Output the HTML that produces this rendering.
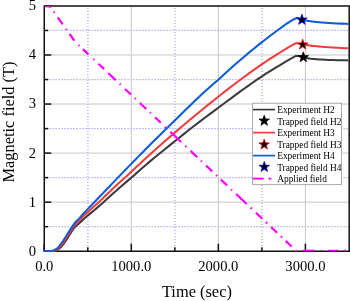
<!DOCTYPE html>
<html><head><meta charset="utf-8"><style>
html,body{margin:0;padding:0;background:#fff;width:350px;height:301px;overflow:hidden;font-family:"Liberation Serif",serif;}
svg{display:block;will-change:transform}
</style></head><body>
<svg width="350" height="301" viewBox="0 0 350 301">
<rect width="350" height="301" fill="#fff"/>
<g stroke="#bcbcfa" stroke-width="1.7" stroke-dasharray="1.2 1.8" stroke-dashoffset="-1"><line x1="87.88" y1="6.9" x2="87.88" y2="251.2" /><line x1="174.93" y1="6.9" x2="174.93" y2="251.2" /><line x1="261.98" y1="6.9" x2="261.98" y2="251.2" /></g>
<g stroke="#bcbcfa" stroke-width="1.3" stroke-dasharray="1.8 1.2" stroke-dashoffset="-1"><line x1="45.25" y1="226.67" x2="349.2" y2="226.67" /><line x1="45.25" y1="177.62" x2="349.2" y2="177.62" /><line x1="45.25" y1="128.57" x2="349.2" y2="128.57" /><line x1="45.25" y1="79.53" x2="349.2" y2="79.53" /><line x1="45.25" y1="30.47" x2="349.2" y2="30.47" /></g>
<g stroke="#c6c6c6" stroke-width="1"><line x1="131.30" y1="5.9" x2="131.30" y2="251.2" /><line x1="218.35" y1="5.9" x2="218.35" y2="251.2" /><line x1="305.40" y1="5.9" x2="305.40" y2="251.2" /><line x1="44.25" y1="202.15" x2="349.2" y2="202.15" /><line x1="44.25" y1="153.10" x2="349.2" y2="153.10" /><line x1="44.25" y1="104.05" x2="349.2" y2="104.05" /><line x1="44.25" y1="55.00" x2="349.2" y2="55.00" /></g>
<path d="M44.25,251.2 L44.25,5.9 L349.2,5.9 L349.2,251.2 Z" fill="none" stroke="#111" stroke-width="1.5"/>
<g stroke="#111" stroke-width="1.5"><line x1="44.25" y1="251.20" x2="51.25" y2="251.20"/><line x1="44.25" y1="202.15" x2="51.25" y2="202.15"/><line x1="44.25" y1="153.10" x2="51.25" y2="153.10"/><line x1="44.25" y1="104.05" x2="51.25" y2="104.05"/><line x1="44.25" y1="55.00" x2="51.25" y2="55.00"/><line x1="44.25" y1="5.95" x2="51.25" y2="5.95"/><line x1="44.25" y1="226.67" x2="48.25" y2="226.67"/><line x1="44.25" y1="177.62" x2="48.25" y2="177.62"/><line x1="44.25" y1="128.57" x2="48.25" y2="128.57"/><line x1="44.25" y1="79.53" x2="48.25" y2="79.53"/><line x1="44.25" y1="30.47" x2="48.25" y2="30.47"/><line x1="44.25" y1="251.2" x2="44.25" y2="243.7"/><line x1="131.30" y1="251.2" x2="131.30" y2="243.7"/><line x1="218.35" y1="251.2" x2="218.35" y2="243.7"/><line x1="305.40" y1="251.2" x2="305.40" y2="243.7"/><line x1="87.78" y1="251.2" x2="87.78" y2="247.2"/><line x1="174.83" y1="251.2" x2="174.83" y2="247.2"/><line x1="261.88" y1="251.2" x2="261.88" y2="247.2"/></g>
<path d="M44.00,251.00 L45.02,251.00 L46.50,251.01 L48.18,251.01 L49.80,251.01 L51.10,251.00 L52.04,250.99 L52.78,250.98 L53.41,250.96 L53.99,250.91 L54.60,250.80 L55.23,250.64 L55.84,250.44 L56.42,250.19 L57.01,249.91 L57.60,249.60 L58.20,249.26 L58.80,248.90 L59.40,248.49 L60.00,248.03 L60.60,247.50 L61.20,246.89 L61.80,246.20 L62.41,245.46 L63.01,244.68 L63.60,243.90 L64.14,243.17 L64.64,242.49 L65.15,241.75 L65.75,240.85 L66.50,239.70 L67.49,238.15 L68.66,236.26 L69.90,234.25 L71.09,232.36 L72.10,230.80 L72.91,229.61 L73.60,228.63 L74.21,227.82 L74.76,227.13 L75.30,226.50 L75.79,225.99 L76.22,225.63 L76.62,225.34 L77.04,225.06 L77.50,224.70 L77.98,224.30 L78.44,223.92 L78.94,223.50 L79.54,222.98 L80.30,222.30 L81.12,221.53 L81.97,220.70 L82.98,219.72 L84.28,218.52 L86.00,217.00 L88.25,215.10 L90.95,212.87 L93.93,210.42 L97.00,207.86 L100.00,205.30 L102.92,202.71 L105.87,200.02 L108.86,197.26 L111.90,194.48 L115.00,191.70 L118.13,188.96 L121.29,186.24 L124.51,183.48 L127.82,180.65 L131.25,177.70 L134.74,174.65 L138.28,171.53 L141.95,168.30 L145.83,164.94 L150.00,161.40 L154.62,157.57 L159.64,153.48 L164.81,149.28 L169.93,145.17 L174.75,141.30 L179.21,137.73 L183.45,134.34 L187.60,131.05 L191.74,127.80 L196.00,124.50 L200.39,121.14 L204.85,117.78 L209.34,114.43 L213.82,111.10 L218.25,107.80 L222.63,104.53 L226.97,101.28 L231.31,98.06 L235.64,94.87 L240.00,91.70 L244.41,88.53 L248.85,85.36 L253.30,82.23 L257.69,79.20 L262.00,76.30 L266.40,73.45 L270.93,70.63 L275.31,67.95 L279.26,65.57 L282.50,63.60 L284.87,62.16 L286.54,61.17 L287.78,60.45 L288.85,59.85 L290.00,59.20 L291.25,58.48 L292.43,57.81 L293.51,57.20 L294.47,56.69 L295.30,56.30 L295.93,56.06 L296.39,55.96 L296.75,55.95 L297.09,55.98 L297.50,56.00 L297.97,56.01 L298.44,56.04 L298.93,56.10 L299.44,56.19 L300.00,56.30 L300.58,56.45 L301.17,56.64 L301.80,56.86 L302.50,57.08 L303.30,57.30 L304.23,57.52 L305.26,57.75 L306.36,57.98 L307.48,58.20 L308.60,58.40 L309.58,58.56 L310.44,58.70 L311.38,58.83 L312.60,58.96 L314.30,59.10 L316.52,59.26 L319.13,59.43 L322.06,59.60 L325.24,59.76 L328.60,59.90 L332.54,60.03 L337.11,60.15 L341.70,60.25 L345.70,60.34 L348.50,60.40" fill="none" stroke="#3a3a3a" stroke-width="2.05" stroke-linejoin="round"/>
<path d="M44.00,251.00 L44.83,251.00 L46.01,251.01 L47.37,251.01 L48.69,251.01 L49.80,251.00 L50.66,250.99 L51.39,250.98 L52.05,250.96 L52.67,250.91 L53.30,250.80 L53.93,250.64 L54.54,250.44 L55.12,250.19 L55.71,249.91 L56.30,249.60 L56.90,249.26 L57.50,248.90 L58.10,248.49 L58.70,248.03 L59.30,247.50 L59.90,246.89 L60.50,246.20 L61.11,245.46 L61.71,244.68 L62.30,243.90 L62.84,243.17 L63.34,242.49 L63.85,241.75 L64.45,240.85 L65.20,239.70 L66.17,238.17 L67.31,236.34 L68.53,234.38 L69.73,232.47 L70.80,230.80 L71.76,229.35 L72.69,228.00 L73.55,226.77 L74.32,225.70 L75.00,224.80 L75.54,224.15 L75.94,223.72 L76.28,223.42 L76.62,223.15 L77.00,222.80 L77.39,222.43 L77.74,222.12 L78.12,221.76 L78.62,221.29 L79.30,220.60 L80.07,219.76 L80.89,218.84 L81.89,217.73 L83.21,216.35 L85.00,214.60 L87.40,212.38 L90.33,209.75 L93.55,206.86 L96.85,203.89 L100.00,201.00 L102.98,198.18 L105.94,195.32 L108.91,192.43 L111.92,189.52 L115.00,186.60 L118.13,183.71 L121.29,180.83 L124.51,177.93 L127.82,174.93 L131.25,171.80 L134.74,168.56 L138.28,165.24 L141.95,161.80 L145.83,158.20 L150.00,154.40 L154.62,150.26 L159.64,145.80 L164.81,141.24 L169.93,136.77 L174.75,132.60 L179.21,128.79 L183.45,125.21 L187.60,121.75 L191.74,118.32 L196.00,114.80 L200.39,111.18 L204.85,107.51 L209.34,103.85 L213.82,100.24 L218.25,96.70 L222.63,93.26 L226.97,89.88 L231.31,86.55 L235.64,83.26 L240.00,80.00 L244.45,76.72 L248.97,73.42 L253.48,70.18 L257.85,67.08 L262.00,64.20 L265.98,61.51 L269.87,58.96 L273.57,56.58 L276.98,54.42 L280.00,52.50 L282.59,50.87 L284.80,49.50 L286.72,48.34 L288.43,47.33 L290.00,46.40 L291.41,45.57 L292.62,44.88 L293.64,44.32 L294.53,43.86 L295.30,43.50 L295.91,43.26 L296.33,43.15 L296.64,43.13 L296.94,43.16 L297.30,43.20 L297.71,43.26 L298.12,43.38 L298.54,43.52 L298.99,43.67 L299.50,43.80 L300.05,43.92 L300.62,44.03 L301.24,44.15 L301.92,44.27 L302.70,44.40 L303.58,44.55 L304.54,44.70 L305.57,44.86 L306.66,45.03 L307.80,45.20 L308.89,45.37 L309.92,45.54 L311.07,45.71 L312.48,45.90 L314.30,46.10 L316.57,46.32 L319.19,46.57 L322.10,46.82 L325.26,47.07 L328.60,47.30 L332.54,47.53 L337.11,47.76 L341.70,47.98 L345.70,48.17 L348.50,48.30" fill="none" stroke="#f23a3a" stroke-width="2.05" stroke-linejoin="round"/>
<path d="M44.00,251.00 L44.63,251.00 L45.52,251.01 L46.56,251.01 L47.59,251.01 L48.50,251.00 L49.27,250.99 L50.00,250.98 L50.68,250.96 L51.35,250.91 L52.00,250.80 L52.63,250.64 L53.24,250.44 L53.82,250.19 L54.41,249.91 L55.00,249.60 L55.60,249.26 L56.20,248.90 L56.80,248.49 L57.40,248.03 L58.00,247.50 L58.60,246.89 L59.20,246.20 L59.81,245.46 L60.41,244.68 L61.00,243.90 L61.54,243.17 L62.04,242.49 L62.55,241.75 L63.15,240.85 L63.90,239.70 L64.85,238.20 L65.96,236.43 L67.15,234.51 L68.36,232.58 L69.50,230.80 L70.64,229.08 L71.81,227.32 L72.95,225.64 L73.97,224.16 L74.80,223.00 L75.38,222.25 L75.75,221.83 L76.02,221.60 L76.27,221.40 L76.60,221.10 L76.97,220.74 L77.31,220.42 L77.68,220.06 L78.16,219.58 L78.80,218.90 L79.48,218.13 L80.15,217.32 L81.00,216.32 L82.22,214.93 L84.00,213.00 L86.52,210.33 L89.67,207.05 L93.15,203.42 L96.69,199.75 L100.00,196.30 L103.04,193.12 L106.01,190.02 L108.96,186.94 L111.94,183.84 L115.00,180.65 L118.13,177.40 L121.29,174.12 L124.51,170.79 L127.82,167.37 L131.25,163.85 L134.74,160.27 L138.28,156.64 L141.95,152.91 L145.83,148.98 L150.00,144.80 L154.56,140.28 L159.44,135.47 L164.53,130.49 L169.67,125.46 L174.75,120.50 L179.88,115.46 L185.15,110.28 L190.38,105.15 L195.39,100.29 L200.00,95.90 L204.04,92.18 L207.64,88.97 L211.03,86.01 L214.49,83.02 L218.25,79.70 L222.37,75.99 L226.69,72.07 L231.11,68.06 L235.58,64.06 L240.00,60.20 L244.45,56.42 L248.97,52.64 L253.48,48.95 L257.85,45.41 L262.00,42.10 L265.98,38.99 L269.87,36.02 L273.57,33.25 L276.98,30.73 L280.00,28.50 L282.58,26.62 L284.78,25.04 L286.69,23.70 L288.40,22.54 L290.00,21.50 L291.50,20.59 L292.83,19.85 L293.99,19.26 L294.98,18.78 L295.80,18.40 L296.37,18.13 L296.70,18.00 L296.89,17.97 L297.06,17.98 L297.30,18.00 L297.61,18.03 L297.91,18.11 L298.22,18.21 L298.58,18.35 L299.00,18.50 L299.50,18.68 L300.05,18.90 L300.65,19.14 L301.29,19.38 L301.95,19.60 L302.57,19.80 L303.16,20.00 L303.81,20.20 L304.63,20.40 L305.70,20.60 L307.02,20.81 L308.52,21.02 L310.22,21.24 L312.14,21.47 L314.30,21.70 L316.71,21.95 L319.34,22.22 L322.20,22.50 L325.29,22.76 L328.60,23.00 L332.54,23.22 L337.11,23.43 L341.70,23.62 L345.70,23.78 L348.50,23.90" fill="none" stroke="#0d5bd9" stroke-width="2.05" stroke-linejoin="round"/>
<path d="M49.70,6.40 L49.90,6.40 L50.72,7.54 M53.73,11.75 L54.55,12.90 M57.78,17.41 L62.70,24.30 M65.95,28.83 L66.70,29.88 M69.65,34.01 L74.31,40.52 M78.53,44.95 L79.47,45.84 M82.91,49.09 L88.46,54.34 M93.40,59.02 L94.35,59.91 M98.43,63.77 L104.13,69.16 M108.20,73.01 L115.69,80.10 M119.69,83.88 L120.64,84.78 M125.05,88.95 L130.95,94.53 M134.78,98.15 L135.72,99.04 M139.85,102.95 L146.28,109.02 M149.87,112.42 L150.81,113.31 M155.01,117.28 L160.81,122.77 M165.02,126.75 L165.97,127.65 M170.33,131.77 L181.12,141.97 M185.28,145.91 L186.36,146.93 M190.58,150.92 L197.20,157.18 M200.95,160.72 L201.89,161.62 M206.00,165.50 L212.21,171.38 M216.12,175.07 L217.14,176.04 M220.90,179.60 L227.22,185.57 M231.13,189.27 L232.10,190.19 M236.16,194.03 L246.75,204.04 M250.56,207.64 L251.78,208.80 M255.96,212.75 L262.27,218.72 M265.87,222.12 L267.15,223.33 M271.11,227.08 L277.18,232.81 M280.88,236.32 L282.01,237.39 M285.67,240.84 L291.61,246.47 M295.72,250.35 L296.30,250.90 L296.80,250.90" fill="none" stroke="#ff00ff" stroke-width="2.2" stroke-linejoin="round"/>
<path d="M302.50,250.90 L315.30,250.90 M321.05,250.90 L322.35,250.90 M328.40,250.90 L338.20,250.90 M343.80,250.90 L345.90,250.90" fill="none" stroke="#e600e6" stroke-width="1.5" stroke-linejoin="round" transform="translate(0,-0.3)"/>
<line x1="44.6" y1="6.55" x2="50.2" y2="6.55" stroke="#f000f0" stroke-width="1.45"/>
<path d="M303.30,51.90 L304.57,55.55 L308.44,55.63 L305.35,57.97 L306.47,61.67 L303.30,59.46 L300.13,61.67 L301.25,57.97 L298.16,55.63 L302.03,55.55Z" fill="#000" stroke="#000" stroke-width="0.8"/>
<path d="M302.70,39.20 L303.98,42.89 L307.88,42.97 L304.77,45.32 L305.90,49.06 L302.70,46.83 L299.50,49.06 L300.63,45.32 L297.52,42.97 L301.42,42.89Z" fill="#000" stroke="#f00" stroke-width="0.8"/>
<path d="M301.95,14.24 L303.27,18.03 L307.28,18.11 L304.08,20.53 L305.24,24.37 L301.95,22.08 L298.66,24.37 L299.82,20.53 L296.62,18.11 L300.63,18.03Z" fill="#000" stroke="#00f" stroke-width="0.8"/>
<rect x="252.5" y="103.3" width="89.0" height="81.3" fill="#fff" stroke="#aaa" stroke-width="1"/>
<line x1="253" y1="109.6" x2="275" y2="109.6" stroke="#3a3a3a" stroke-width="1.7"/>
<path d="M264.20,115.30 L265.49,119.02 L269.43,119.10 L266.29,121.48 L267.43,125.25 L264.20,123.00 L260.97,125.25 L262.11,121.48 L258.97,119.10 L262.91,119.02Z" fill="#000" stroke="#000" stroke-width="0.8"/>
<line x1="253" y1="132.6" x2="275" y2="132.6" stroke="#f23a3a" stroke-width="1.7"/>
<path d="M264.20,139.10 L265.49,142.82 L269.43,142.90 L266.29,145.28 L267.43,149.05 L264.20,146.80 L260.97,149.05 L262.11,145.28 L258.97,142.90 L262.91,142.82Z" fill="#000" stroke="#f00" stroke-width="0.8"/>
<line x1="253" y1="155.6" x2="275" y2="155.6" stroke="#0d5bd9" stroke-width="1.7"/>
<path d="M264.30,161.50 L265.59,165.22 L269.53,165.30 L266.39,167.68 L267.53,171.45 L264.30,169.20 L261.07,171.45 L262.21,167.68 L259.07,165.30 L263.01,165.22Z" fill="#000" stroke="#00f" stroke-width="0.8"/>
<line x1="253" y1="178.6" x2="263.7" y2="178.6" stroke="#ff00ff" stroke-width="1.9"/>
<line x1="268.6" y1="178.6" x2="271.3" y2="178.6" stroke="#ff00ff" stroke-width="1.9"/>
<text x="277.2" y="113.30" font-family="Liberation Serif" font-size="9.4">Experiment H2</text>
<text x="277.2" y="124.80" font-family="Liberation Serif" font-size="9.4">Trapped field H2</text>
<text x="277.2" y="136.30" font-family="Liberation Serif" font-size="9.4">Experiment H3</text>
<text x="277.2" y="147.80" font-family="Liberation Serif" font-size="9.4">Trapped field H3</text>
<text x="277.2" y="159.30" font-family="Liberation Serif" font-size="9.4">Experiment H4</text>
<text x="277.2" y="170.80" font-family="Liberation Serif" font-size="9.4">Trapped field H4</text>
<text x="277.2" y="182.30" font-family="Liberation Serif" font-size="9.4">Applied field</text>
<text x="36" y="255.60" text-anchor="end" font-family="Liberation Serif" font-size="14.6">0</text>
<text x="36" y="206.55" text-anchor="end" font-family="Liberation Serif" font-size="14.6">1</text>
<text x="36" y="157.50" text-anchor="end" font-family="Liberation Serif" font-size="14.6">2</text>
<text x="36" y="108.45" text-anchor="end" font-family="Liberation Serif" font-size="14.6">3</text>
<text x="36" y="59.40" text-anchor="end" font-family="Liberation Serif" font-size="14.6">4</text>
<text x="36" y="10.35" text-anchor="end" font-family="Liberation Serif" font-size="14.6">5</text>
<text x="44.25" y="270.8" text-anchor="middle" font-family="Liberation Serif" font-size="14.6">0.0</text>
<text x="131.30" y="270.8" text-anchor="middle" font-family="Liberation Serif" font-size="14.6">1000.0</text>
<text x="218.35" y="270.8" text-anchor="middle" font-family="Liberation Serif" font-size="14.6">2000.0</text>
<text x="305.40" y="270.8" text-anchor="middle" font-family="Liberation Serif" font-size="14.6">3000.0</text>
<text x="196.9" y="297.0" text-anchor="middle" font-family="Liberation Serif" font-size="16.4">Time (sec)</text>
<text transform="translate(14.1,122) rotate(-90)" x="0" y="0" text-anchor="middle" font-family="Liberation Serif" font-size="16.4">Magnetic field (T)</text>
</svg>
</body></html>
